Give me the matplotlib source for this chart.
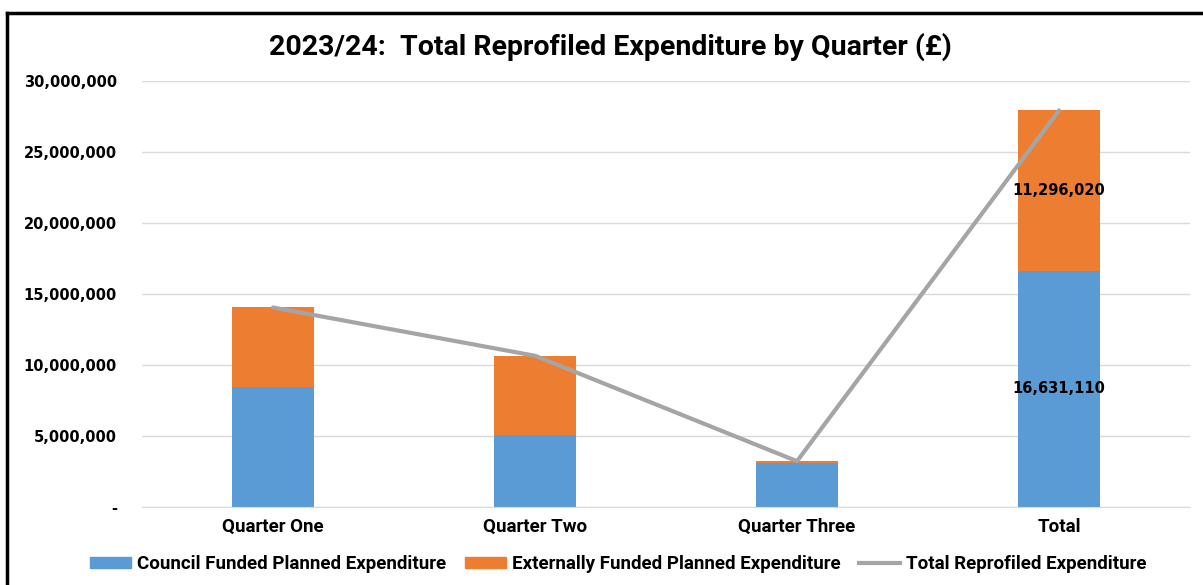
import matplotlib.pyplot as plt
import numpy as np
from matplotlib.ticker import FuncFormatter
from matplotlib.lines import Line2D

# data
categories = ["Quarter One", "Quarter Two", "Quarter Three", "Total"]
council = [8450000, 5050000, 3131110, 16631110]
external = [5600000, 5600000, 96020, 11296020]
total = [c + e for c, e in zip(council, external)]

blue = "#5b9bd5"
orange = "#ed7d31"
grey = "#a5a5a5"
narrow = ["Roboto", "DejaVu Sans"]

fig = plt.figure(figsize=(12.03, 5.85), dpi=100)
ax = fig.add_axes([142 / 1203, 1 - 507 / 585, (1190 - 142) / 1203, (507 - 81) / 585])

x = np.arange(len(categories))
ax.bar(x, council, width=0.31, color=blue, zorder=2)
ax.bar(x, external, width=0.31, bottom=council, color=orange, zorder=2)
ax.plot(x, total, color=grey, lw=3, zorder=3, solid_capstyle="round")

# data labels only on the Total bar
ax.text(x[-1], council[-1] / 2, f"{council[-1]:,}", ha="center", va="center",
        fontsize=10.5, fontweight="bold", color="black", zorder=4)
ax.text(x[-1], council[-1] + external[-1] / 2, f"{external[-1]:,}", ha="center",
        va="center", fontsize=10.5, fontweight="bold", color="black", zorder=4)

ax.set_xlim(-0.5, len(categories) - 0.5)
ax.set_ylim(0, 30000000)
ax.set_yticks(np.arange(0, 30000001, 5000000))
ax.yaxis.set_major_formatter(FuncFormatter(lambda v, p: "-" if v == 0 else f"{int(v):,}"))
ax.grid(axis="y", color="#d9d9d9", lw=1, zorder=0)
for s in ["top", "right", "left"]:
    ax.spines[s].set_visible(False)
ax.spines["bottom"].set_color("#d9d9d9")
ax.tick_params(axis="y", length=0, pad=18, labelsize=10.5)
ax.tick_params(axis="x", length=0, pad=8)
for lab in ax.get_yticklabels():
    lab.set_fontweight("bold")
ax.set_xticks(x)
ax.set_xticklabels(categories, fontsize=13.5, fontweight="bold", family=narrow)

fig.text(0.507, 1 - 47 / 585, "2023/24:  Total Reprofiled Expenditure by Quarter (£)",
         ha="center", va="center", fontsize=20.5, fontweight="bold", family=narrow)

handles = [
    plt.Rectangle((0, 0), 1, 1, color=blue),
    plt.Rectangle((0, 0), 1, 1, color=orange),
    Line2D([0], [0], color=grey, lw=3),
]
labels = ["Council Funded Planned Expenditure", "Externally Funded Planned Expenditure",
          "Total Reprofiled Expenditure"]
fig.legend(handles, labels, loc="center", bbox_to_anchor=(0.514, 1 - 564 / 585), ncol=3,
           frameon=False, prop={"family": narrow, "weight": "bold", "size": 13.5},
           handlelength=2.2, handleheight=0.55, handletextpad=0.3, columnspacing=1.0)

# outer chart border (left and top edges visible)
fig.add_artist(Line2D([7 / 1203, 7 / 1203], [0, 1 - 13 / 585], color="black", lw=2.5,
                      transform=fig.transFigure))
fig.add_artist(Line2D([7 / 1203, 1], [1 - 13 / 585, 1 - 13 / 585], color="black", lw=2.5,
                      transform=fig.transFigure))

fig.savefig("out.png", dpi=100)
